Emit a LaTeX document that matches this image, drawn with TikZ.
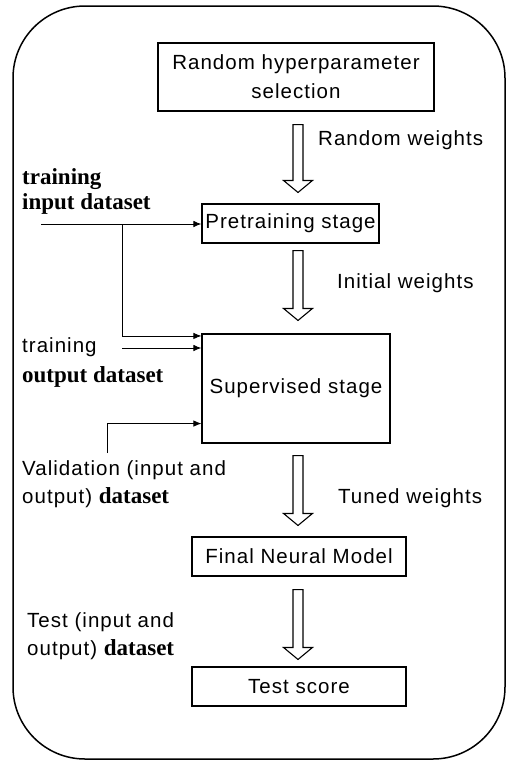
\documentclass[tikz,border=0pt]{standalone}
\usepackage{fontspec}
\setmainfont{Liberation Sans}[LetterSpace=5]
\newfontfamily\bserif{Liberation Serif}
\usetikzlibrary{arrows.meta,calc}
\tikzset{>={Latex[length=8pt,width=6.5pt]}}
\tikzset{
  stagebox/.style={draw, line width=1.1pt, inner sep=0pt, align=center, font=\fontsize{20.5}{29}\selectfont},
  lbl/.style={anchor=west, inner sep=0pt, align=left, font=\fontsize{20.5}{28}\selectfont},
  thinline/.style={line width=0.9pt}
}
\newcommand{\ds}[1]{{\bserif\bfseries\fontsize{23}{25}\selectfont #1}}
\newcommand{\hollowarrow}[4]{%
  \draw[line width=1.1pt, fill=white] let \p1=(#1.south -| ax), \p2=(#2.north -| ax) in
    (\x1-5pt,\y1-#3pt) -- (\x1-5pt,\y2+#4pt+12pt) -- (\x1-14.5pt,\y2+#4pt+12pt)
    -- (\x1,\y2+#4pt) -- (\x1+14.5pt,\y2+#4pt+12pt) -- (\x1+5pt,\y2+#4pt+12pt)
    -- (\x1+5pt,\y1-#3pt) -- cycle;}

\begin{document}
\begin{tikzpicture}[x=1pt,y=-1pt]
\useasboundingbox (0,0) rectangle (506,761);
\draw [line width=1.5pt, rounded corners=72pt] (13,6) rectangle (505,759);

\node [stagebox, minimum width=276pt, minimum height=68pt] (sel) at (296,77) {Random hyperparameter\\selection};
\node [stagebox, minimum width=177pt, minimum height=39pt] (pre) at (290.5,223.5) {Pretraining stage};
\node [stagebox, minimum width=188pt, minimum height=109pt] (sup) at (296,388.5) {Supervised stage};
\node [stagebox, minimum width=214pt, minimum height=39pt] (fin) at (299,556.5) {Final Neural Model};
\node [stagebox, minimum width=214pt, minimum height=39pt] (tst) at (299,686.5) {Test score};

\coordinate (ax) at (298,0);
\hollowarrow{sel}{pre}{13}{11}
\hollowarrow{pre}{sup}{7}{13}
\hollowarrow{sup}{fin}{12}{11}
\hollowarrow{fin}{tst}{13}{7}

\node [lbl] (rw) at (318,140) {Random weights};
\node [lbl] (iw) at (337,283) {Initial weights};
\node [lbl] (tw) at (338,498) {Tuned weights};

\node [lbl, font=\bserif\bfseries\fontsize{23}{25}\selectfont] (tin) at (22,191) {training\\input dataset};
\node [lbl, font=\fontsize{20.5}{30}\selectfont] (tout) at (22,363) {training\\\ds{output dataset}};
\node [lbl] (val) at (22,484) {Validation (input and\\output) \ds{dataset}};
\node [lbl] (tlbl) at (27,636) {Test (input and\\output) \ds{dataset}};

\coordinate (tinstart) at (41,224);
\coordinate (split) at (122,224);
\coordinate (toutstart) at (122,348);
\coordinate (valstart) at (107,453);
\draw [thinline, ->] (tinstart) -- (tinstart -| pre.west);
\draw [thinline, ->] (split) |- ([yshift=-2.5pt]sup.north west);
\draw [thinline, ->] (toutstart) -- (toutstart -| sup.west);
\draw [thinline, ->] (valstart) |- ([yshift=20pt]sup.south west);
\end{tikzpicture}
\end{document}
